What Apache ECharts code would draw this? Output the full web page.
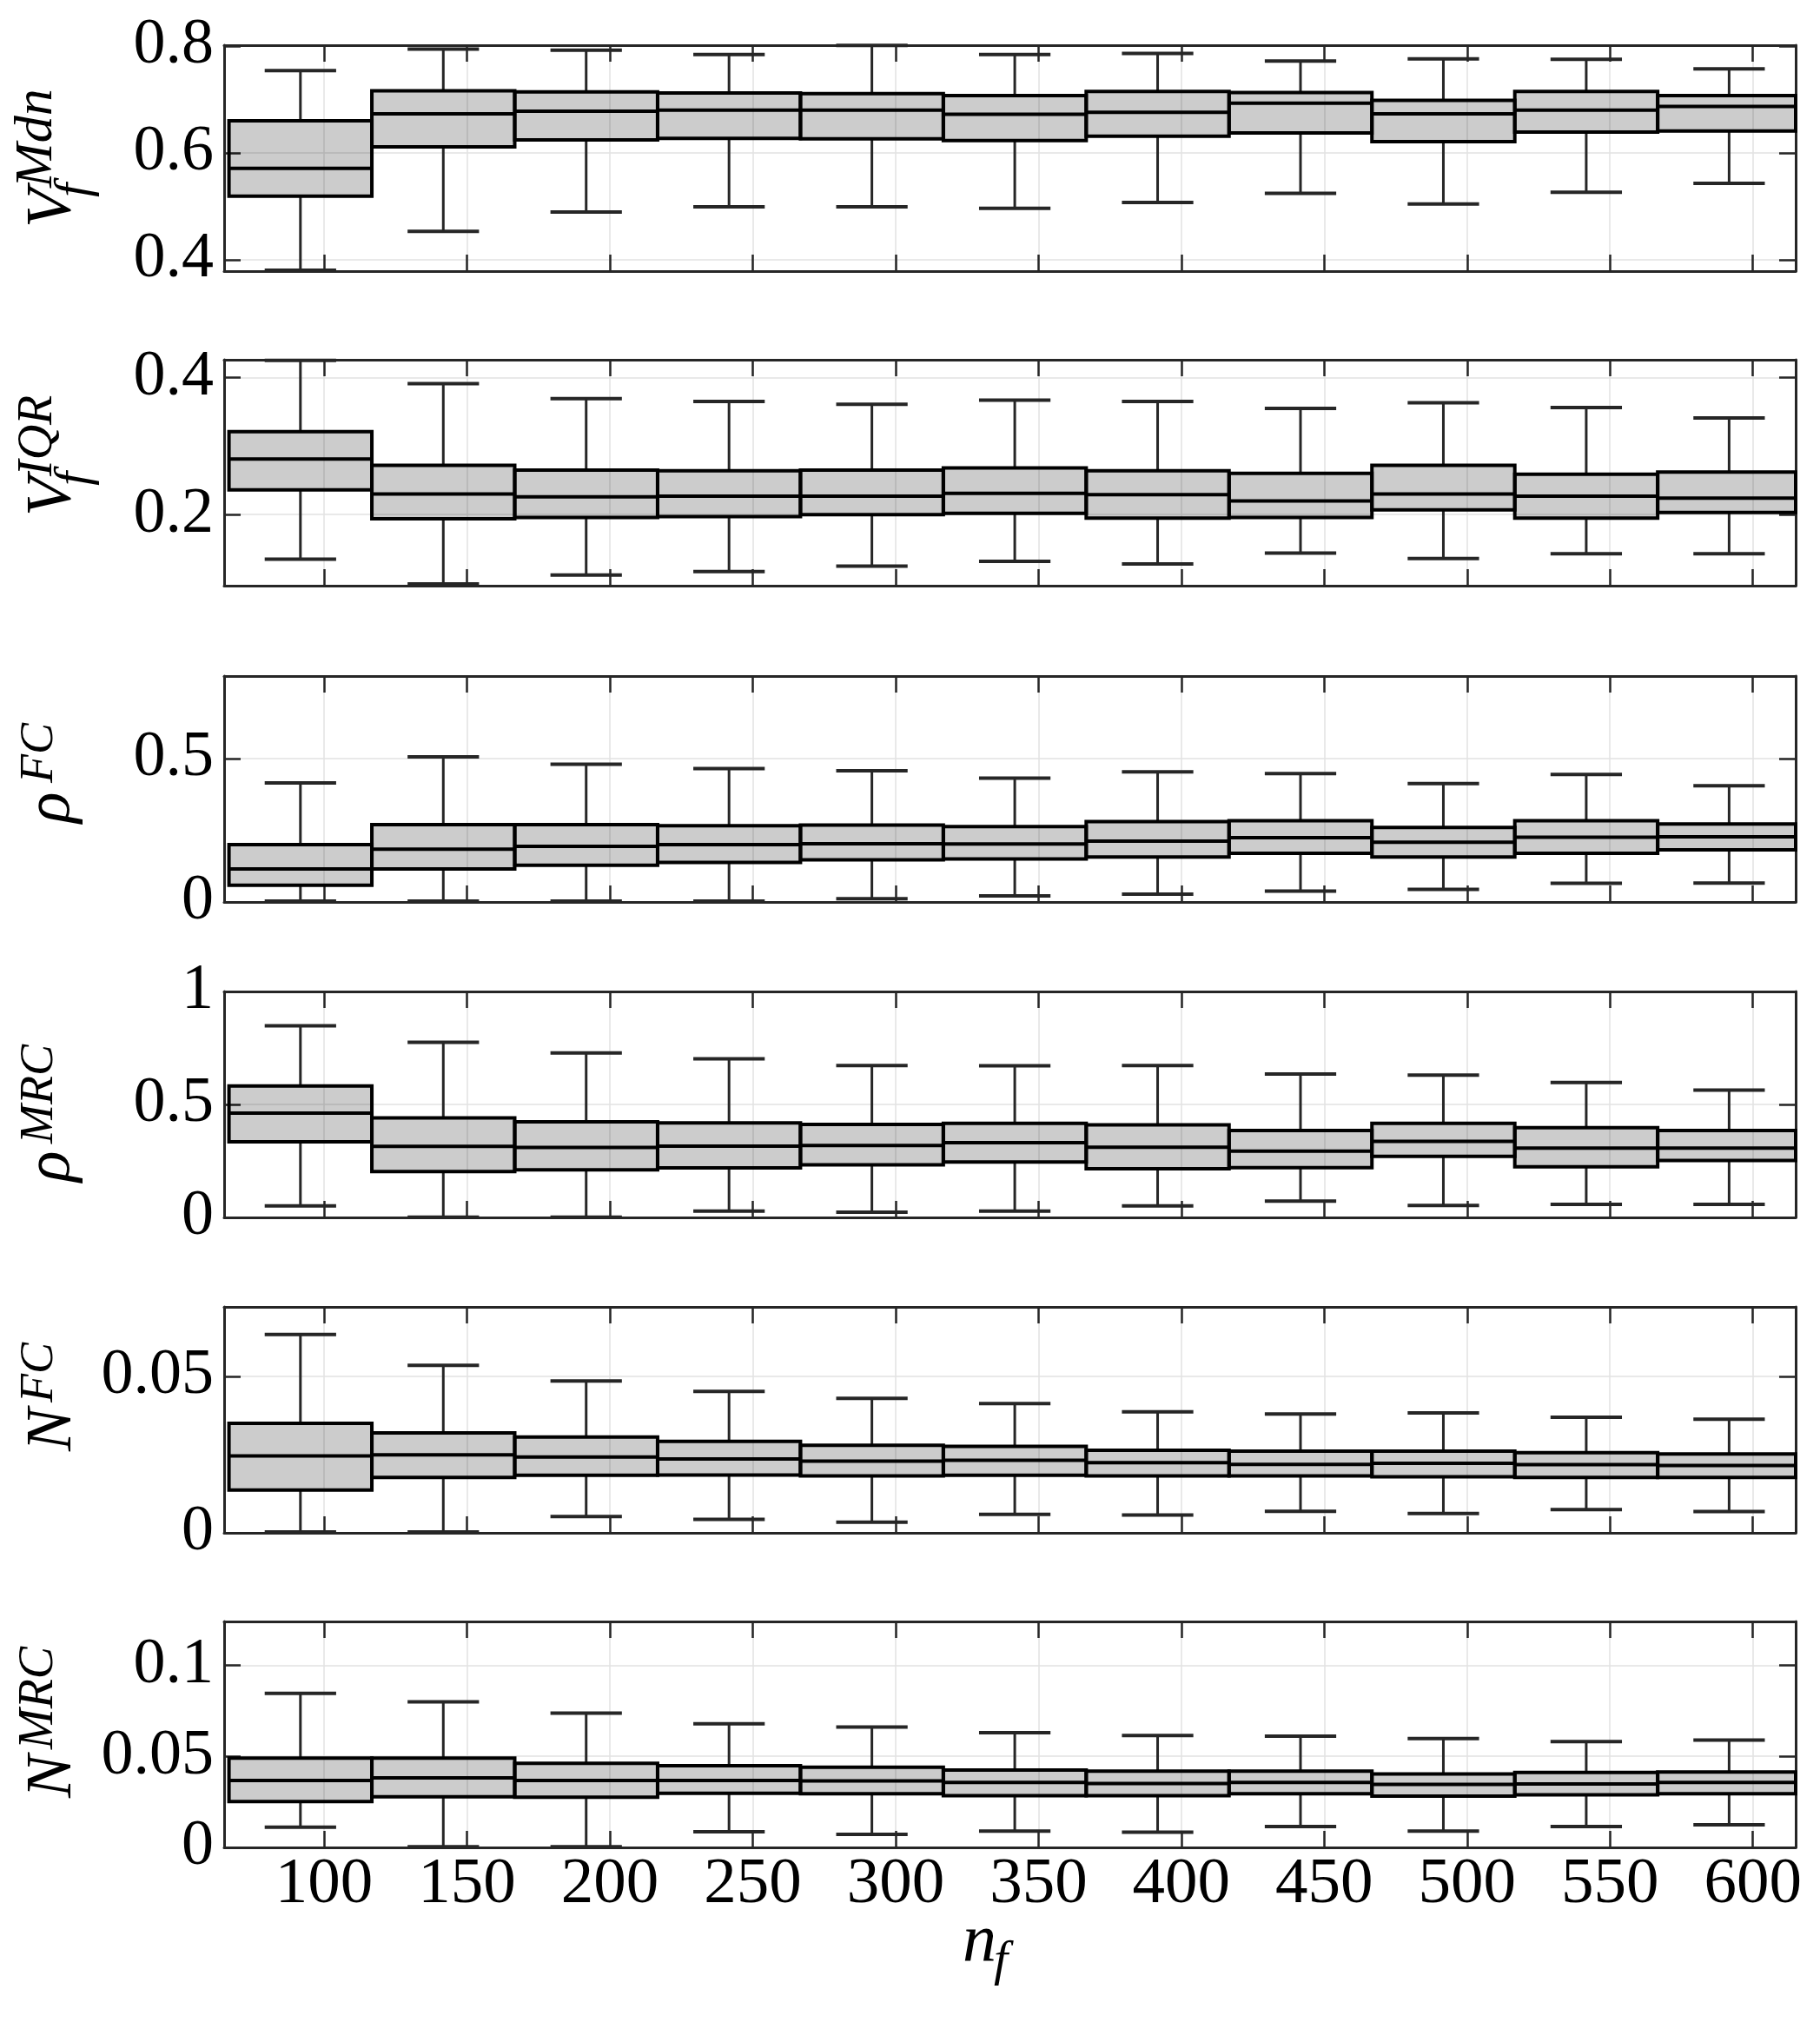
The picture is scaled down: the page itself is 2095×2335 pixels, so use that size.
<!DOCTYPE html>
<html><head><meta charset="utf-8">
<script src="https://cdn.jsdelivr.net/npm/echarts@6/dist/echarts.min.js"></script>
<style>html,body{margin:0;padding:0;background:#fff}#c{width:2095px;height:2335px}</style>
</head><body><div id="c"></div>
<script>
// ---------------- DATA ----------------
const nf = [100, 150, 200, 250, 300, 350, 400, 450, 500, 550, 600];
// each row: [lower whisker, Q1, median, Q3, upper whisker]
const vfMdn = [
  [0.380, 0.519, 0.571, 0.660, 0.754],
  [0.453, 0.611, 0.673, 0.716, 0.794],
  [0.489, 0.624, 0.678, 0.714, 0.792],
  [0.499, 0.627, 0.680, 0.712, 0.784],
  [0.499, 0.626, 0.680, 0.711, 0.801],
  [0.496, 0.623, 0.672, 0.707, 0.784],
  [0.507, 0.631, 0.676, 0.715, 0.786],
  [0.524, 0.637, 0.693, 0.713, 0.772],
  [0.504, 0.621, 0.673, 0.698, 0.776],
  [0.526, 0.639, 0.680, 0.715, 0.775],
  [0.543, 0.641, 0.687, 0.707, 0.757]
];
const vfIqr = [
  [0.135, 0.236, 0.281, 0.321, 0.425],
  [0.099, 0.194, 0.230, 0.272, 0.391],
  [0.112, 0.196, 0.226, 0.265, 0.369],
  [0.117, 0.197, 0.227, 0.264, 0.365],
  [0.125, 0.200, 0.227, 0.265, 0.361],
  [0.132, 0.202, 0.231, 0.268, 0.367],
  [0.128, 0.195, 0.229, 0.264, 0.365],
  [0.144, 0.196, 0.220, 0.260, 0.355],
  [0.136, 0.207, 0.230, 0.272, 0.363],
  [0.143, 0.195, 0.227, 0.259, 0.356],
  [0.143, 0.203, 0.224, 0.262, 0.341]
];
const rhoFc = [
  [0.003, 0.058, 0.115, 0.200, 0.415],
  [0.003, 0.115, 0.184, 0.270, 0.506],
  [0.003, 0.128, 0.194, 0.270, 0.480],
  [0.003, 0.138, 0.200, 0.266, 0.465],
  [0.011, 0.147, 0.203, 0.268, 0.458],
  [0.021, 0.150, 0.202, 0.263, 0.432],
  [0.027, 0.157, 0.212, 0.280, 0.454],
  [0.038, 0.170, 0.224, 0.283, 0.448],
  [0.044, 0.157, 0.208, 0.260, 0.413],
  [0.065, 0.170, 0.226, 0.283, 0.445],
  [0.066, 0.182, 0.227, 0.272, 0.405]
];
const rhoMrc = [
  [0.051, 0.335, 0.462, 0.582, 0.848],
  [0.001, 0.203, 0.314, 0.440, 0.775],
  [0.001, 0.211, 0.310, 0.423, 0.728],
  [0.028, 0.219, 0.315, 0.418, 0.702],
  [0.023, 0.233, 0.318, 0.412, 0.672],
  [0.028, 0.245, 0.331, 0.416, 0.671],
  [0.051, 0.215, 0.311, 0.410, 0.672],
  [0.072, 0.220, 0.293, 0.385, 0.635],
  [0.053, 0.270, 0.337, 0.416, 0.630],
  [0.058, 0.224, 0.307, 0.397, 0.597],
  [0.058, 0.252, 0.307, 0.385, 0.563]
];
const nFc = [
  [0.0003, 0.0137, 0.0246, 0.0350, 0.0634],
  [0.0003, 0.0177, 0.0249, 0.0319, 0.0535],
  [0.0052, 0.0184, 0.0242, 0.0306, 0.0485],
  [0.0043, 0.0185, 0.0236, 0.0292, 0.0452],
  [0.0034, 0.0182, 0.0229, 0.0280, 0.0430],
  [0.0059, 0.0184, 0.0232, 0.0276, 0.0413],
  [0.0057, 0.0182, 0.0224, 0.0264, 0.0387],
  [0.0069, 0.0182, 0.0219, 0.0261, 0.0380],
  [0.0062, 0.0179, 0.0222, 0.0261, 0.0383],
  [0.0074, 0.0177, 0.0218, 0.0256, 0.0369],
  [0.0068, 0.0177, 0.0215, 0.0252, 0.0363]
];
const nMrc = [
  [0.0111, 0.0251, 0.0367, 0.0490, 0.0845],
  [0.0003, 0.0278, 0.0381, 0.0490, 0.0799],
  [0.0003, 0.0275, 0.0367, 0.0462, 0.0737],
  [0.0086, 0.0297, 0.0367, 0.0448, 0.0678],
  [0.0071, 0.0294, 0.0365, 0.0440, 0.0660],
  [0.0090, 0.0284, 0.0356, 0.0424, 0.0630],
  [0.0084, 0.0284, 0.0351, 0.0419, 0.0614],
  [0.0114, 0.0294, 0.0357, 0.0418, 0.0610],
  [0.0089, 0.0281, 0.0346, 0.0403, 0.0597],
  [0.0114, 0.0289, 0.0348, 0.0411, 0.0581],
  [0.0124, 0.0294, 0.0356, 0.0414, 0.0589]
];
// axis limits and tick labels
const xLimits = [65, 615];
const xTicks = [100, 150, 200, 250, 300, 350, 400, 450, 500, 550, 600];
const yLimits = [[0.3785, 0.8015], [0.0964, 0.4258], [0, 0.788], [0, 1], [0, 0.0722], [0, 0.124]];
const yTicks = [[0.4, 0.6, 0.8], [0.2, 0.4], [0, 0.5], [0, 0.5, 1], [0, 0.05], [0, 0.05, 0.1]];
const yNames = [
  {base: 'V', sup: 'Mdn', sub: 'f'},
  {base: 'V', sup: 'IQR', sub: 'f'},
  {base: 'ρ', sup: 'FC'},
  {base: 'ρ', sup: 'MRC'},
  {base: 'N', sup: 'FC'},
  {base: 'N', sup: 'MRC'}
];
const panels = [vfMdn, vfIqr, rhoFc, rhoMrc, nFc, nMrc];

// ---------------- LAYOUT / STYLE ----------------
const BOX_SHIFT = -8.3;   // box centres sit slightly left of the ticks
const BOX_W = 50;
const gridTops = [52, 414, 778, 1141, 1504, 1866];
const GRID_H = 260;
const FONT = '"Liberation Serif", "Times New Roman", serif';
const AX = '#262626';

function renderBox(params, api) {
  const c = api.value(0) + BOX_SHIFT;
  const lo = api.value(1), q1 = api.value(2), med = api.value(3), q3 = api.value(4), hi = api.value(5);
  const cs = params.coordSys;
  const pL = api.coord([c - BOX_W / 2, q3]);
  const pR = api.coord([c + BOX_W / 2, q1]);
  const xl = Math.max(pL[0], cs.x), xr = Math.min(pR[0], cs.x + cs.width);
  const cx = api.coord([c, med])[0];
  const yMed = api.coord([c, med])[1];
  const yHi = api.coord([c, hi])[1], yLo = api.coord([c, lo])[1];
  const capL = api.coord([c - BOX_W / 4, hi])[0], capR = api.coord([c + BOX_W / 4, hi])[0];
  const wStyle = {stroke: AX, lineWidth: 3};
  const cStyle = {stroke: AX, lineWidth: 4};
  return {
    type: 'group',
    children: [
      {type: 'line', shape: {x1: cx, y1: yHi, x2: cx, y2: pL[1]}, style: wStyle},
      {type: 'line', shape: {x1: cx, y1: pR[1], x2: cx, y2: yLo}, style: wStyle},
      {type: 'line', shape: {x1: capL, y1: yHi, x2: capR, y2: yHi}, style: cStyle},
      {type: 'line', shape: {x1: capL, y1: yLo, x2: capR, y2: yLo}, style: cStyle},
      {type: 'rect', shape: {x: xl, y: pL[1], width: xr - xl, height: pR[1] - pL[1]},
        style: {fill: 'rgba(0,0,0,0.2)', stroke: '#000', lineWidth: 4}},
      {type: 'line', shape: {x1: xl, y1: yMed, x2: xr, y2: yMed}, style: {stroke: '#000', lineWidth: 4}}
    ]
  };
}

const grid = [], xAxis = [], yAxis = [], series = [];
panels.forEach((rows, i) => {
  grid.push({left: 258, right: 28, top: gridTops[i], height: GRID_H});
  const tickCommon = {show: true, inside: true, length: 19, lineStyle: {color: AX, width: 2.5}};
  const lineCommon = {show: true, onZero: false, lineStyle: {color: AX, width: 3}};
  xAxis.push({
    type: 'value', gridIndex: i, min: xLimits[0], max: xLimits[1], position: 'bottom',
    axisLine: lineCommon,
    axisTick: Object.assign({customValues: xTicks}, tickCommon),
    axisLabel: {show: i === panels.length - 1, customValues: xTicks, fontSize: 75, fontFamily: FONT, color: '#000', margin: 6},
    splitLine: {show: true, lineStyle: {color: '#e2e2e2', width: 1.5}}
  });
  xAxis.push({
    type: 'value', gridIndex: i, min: xLimits[0], max: xLimits[1], position: 'top',
    axisLine: lineCommon,
    axisTick: Object.assign({customValues: xTicks}, tickCommon),
    axisLabel: {show: false}, splitLine: {show: false}
  });
  yAxis.push({
    type: 'value', gridIndex: i, min: yLimits[i][0], max: yLimits[i][1], position: 'left',
    axisLine: lineCommon,
    axisTick: Object.assign({customValues: yTicks[i]}, tickCommon),
    axisLabel: {show: true, customValues: yTicks[i], fontSize: 74, fontFamily: FONT, color: '#000', margin: 12},
    splitLine: {show: true, lineStyle: {color: '#e2e2e2', width: 1.5}}
  });
  yAxis.push({
    type: 'value', gridIndex: i, min: yLimits[i][0], max: yLimits[i][1], position: 'right',
    axisLine: lineCommon,
    axisTick: Object.assign({customValues: yTicks[i]}, tickCommon),
    axisLabel: {show: false}, splitLine: {show: false}
  });
  series.push({
    type: 'custom', xAxisIndex: 2 * i, yAxisIndex: 2 * i,
    renderItem: renderBox,
    encode: {x: 0, y: [1, 2, 3, 4, 5]},
    data: rows.map((r, k) => [nf[k]].concat(r)),
    silent: true, animation: false
  });
});

// ---------------- AXIS NAMES (math-style, rotated) ----------------
const BASE_FS = 74, SUB_FS = 58;
// per panel: screen start (bottom) y, base baseline x, sup size/start offset/baseline shift, sub start offset/baseline shift
const nameLayout = [
  {y: 262, x: 87, supFs: 62, supDx: 46, supDy: -23, subDx: 35, subDy: 19},
  {y: 594, x: 87, supFs: 56, supDx: 46, supDy: -24, subDx: 35, subDy: 19},
  {y: 947, x: 85, supFs: 54, supDx: 46, supDy: -21},
  {y: 1360, x: 85, supFs: 54, supDx: 44, supDy: -21},
  {y: 1670, x: 87, supFs: 54, supDx: 56, supDy: -23},
  {y: 2069, x: 87, supFs: 56, supDx: 56, supDy: -23}
];
function mathText(txt, fs, dx, baseline) {
  return {
    type: 'text', x: dx, y: baseline - 0.3375 * fs,
    style: {text: txt, font: 'italic ' + fs + 'px ' + FONT, fill: '#000', align: 'left', verticalAlign: 'middle'}
  };
}
const graphic = yNames.map((n, i) => {
  const L = nameLayout[i];
  const children = [mathText(n.base, BASE_FS, 0, 0), mathText(n.sup, L.supFs, L.supDx, L.supDy)];
  if (n.sub) children.push(mathText(n.sub, SUB_FS, L.subDx, L.subDy));
  return {type: 'group', x: L.x, y: L.y, rotation: Math.PI / 2, children: children};
});
// x-axis name n_f
graphic.push({
  type: 'group', x: 1108, y: 2263, children: [
    mathText('n', 78, 0, 0),
    mathText('f', SUB_FS, 36, 14)
  ]
});

const chart = echarts.init(document.getElementById('c'), null, {renderer: 'canvas'});
chart.setOption({
  backgroundColor: '#fff',
  animation: false,
  grid: grid, xAxis: xAxis, yAxis: yAxis, series: series, graphic: graphic
});
</script>
</body></html>
